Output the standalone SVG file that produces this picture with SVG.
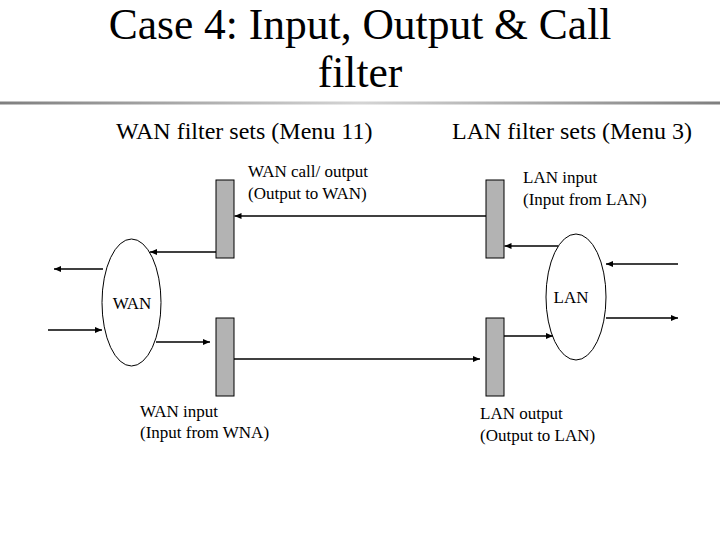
<svg xmlns="http://www.w3.org/2000/svg" width="720" height="540" viewBox="0 0 720 540">
<defs>
<linearGradient id="rule" x1="0" y1="0" x2="1" y2="0">
<stop offset="0" stop-color="#7f7f7f"/>
<stop offset="0.5" stop-color="#d4d4d4"/>
<stop offset="1" stop-color="#7f7f7f"/>
</linearGradient>
<marker id="arr" markerUnits="userSpaceOnUse" markerWidth="8" markerHeight="6" refX="7" refY="3" orient="auto">
<path d="M0,0 L7,3 L0,6 z" fill="#000"/>
</marker>
</defs>
<style>
text{font-family:"Liberation Serif","Times New Roman",serif;fill:#000}
.title{font-size:43.5px}
.sub{font-size:24px}
.lbl{font-size:17px}
.bar{fill:#b3b3b3;stroke:#000;stroke-width:1}
.net{fill:#fff;stroke:#000;stroke-width:1}
.conn line{stroke:#000;stroke-width:1.6;marker-end:url(#arr)}
</style>
<rect width="720" height="540" fill="#fff"/>
<g id="title">
<text class="title" x="360" y="39" text-anchor="middle">Case 4: Input, Output &amp; Call</text>
<text class="title" x="360" y="87" text-anchor="middle">filter</text>
<rect x="0" y="101.5" width="720" height="3" fill="url(#rule)"/>
</g>
<g id="headings">
<text class="sub" x="116" y="139">WAN filter sets (Menu 11)</text>
<text class="sub" x="452" y="139">LAN filter sets (Menu 3)</text>
</g>
<g id="wan-call-output">
<rect class="bar" x="216" y="180" width="18" height="78"/>
<text class="lbl" x="248" y="177">WAN call/ output</text>
<text class="lbl" x="248" y="198.5">(Output to WAN)</text>
</g>
<g id="wan-input">
<rect class="bar" x="216" y="318" width="18" height="78"/>
<text class="lbl" x="140" y="416.5">WAN input</text>
<text class="lbl" x="140" y="438">(Input from WNA)</text>
</g>
<g id="lan-input">
<rect class="bar" x="486" y="180" width="18" height="78"/>
<text class="lbl" x="523" y="183">LAN input</text>
<text class="lbl" x="523" y="204.5">(Input from LAN)</text>
</g>
<g id="lan-output">
<rect class="bar" x="486" y="318" width="18" height="78"/>
<text class="lbl" x="480" y="419">LAN output</text>
<text class="lbl" x="480" y="440.5">(Output to LAN)</text>
</g>
<g id="wan">
<ellipse class="net" cx="131.5" cy="302.5" rx="29.5" ry="63.5"/>
<text class="lbl" x="132" y="309" text-anchor="middle">WAN</text>
</g>
<g id="lan">
<ellipse class="net" cx="576" cy="297" rx="30" ry="63"/>
<text class="lbl" x="571" y="303" text-anchor="middle">LAN</text>
</g>
<g id="connectors" class="conn">
<line x1="486" y1="216" x2="234.5" y2="216"/>
<line x1="216" y1="252" x2="150" y2="252"/>
<line x1="103" y1="269" x2="54" y2="269"/>
<line x1="48" y1="330" x2="102" y2="330"/>
<line x1="156" y1="342" x2="210" y2="342"/>
<line x1="234" y1="359" x2="480" y2="359"/>
<line x1="558" y1="246" x2="504.5" y2="246"/>
<line x1="678" y1="264" x2="606" y2="264"/>
<line x1="606" y1="318" x2="678" y2="318"/>
<line x1="504" y1="336" x2="553" y2="336"/>
</g>
</svg>
